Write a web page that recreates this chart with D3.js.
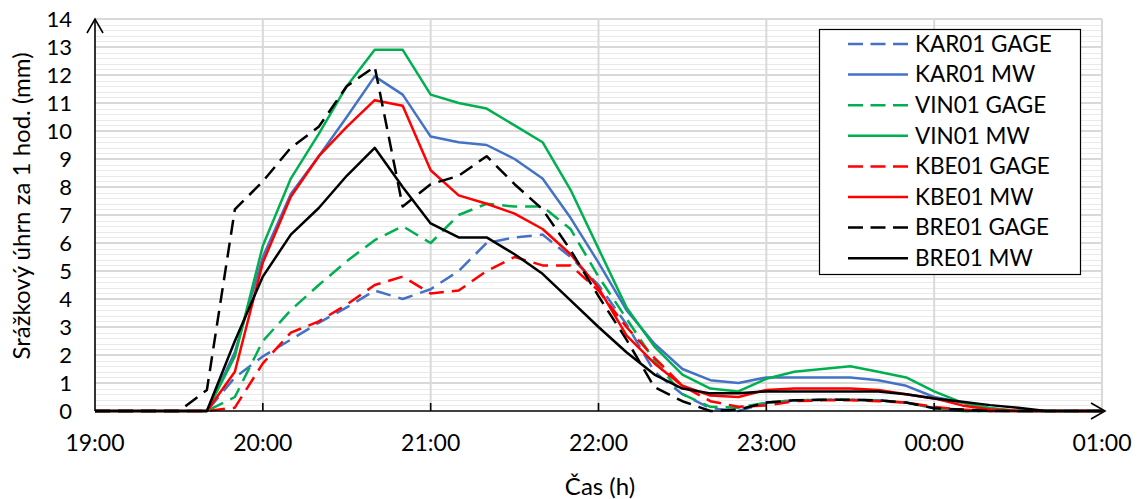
<!DOCTYPE html>
<html><head><meta charset="utf-8">
<script src="https://cdn.jsdelivr.net/npm/d3@7"></script>
<style>body{margin:0;background:#fff}svg{display:block}text{font-family:Lato,"Open Sans",sans-serif;fill:#000}</style>
</head><body><svg id="c" width="1144" height="499"></svg>
<script>
const times=["19:00","19:10","19:20","19:30","19:40","19:50","20:00","20:10","20:20","20:30","20:40","20:50","21:00","21:10","21:20","21:30","21:40","21:50","22:00","22:10","22:20","22:30","22:40","22:50","23:00","23:10","23:20","23:30","23:40","23:50","00:00","00:10","00:20","00:30","00:40","00:50","01:00"];
const xTickLabels=["19:00","20:00","21:00","22:00","23:00","00:00","01:00"];
const yTickLabels=[0,1,2,3,4,5,6,7,8,9,10,11,12,13,14];
const KAR01_GAGE=[0,0,0,0,0,1.2,1.95,2.55,3.15,3.7,4.3,4.0,4.35,5.0,6.0,6.2,6.3,5.5,4.5,3.1,1.4,0.6,0.1,0,0.3,0.38,0.4,0.4,0.38,0.3,0.1,0,0,0,0,0,0];
const KAR01_MW=[0,0,0,0,0,2.1,5.5,7.75,9.1,10.5,11.95,11.3,9.8,9.6,9.5,9.0,8.3,6.9,5.3,3.6,2.4,1.5,1.1,1.0,1.2,1.2,1.2,1.2,1.1,0.9,0.5,0.3,0.1,0,0,0,0];
const VIN01_GAGE=[0,0,0,0,0,0.5,2.5,3.6,4.5,5.35,6.1,6.6,6.0,7.0,7.4,7.3,7.3,6.5,4.8,3.3,1.8,0.6,0.15,0.12,0.3,0.38,0.4,0.4,0.38,0.3,0.1,0,0,0,0,0,0];
const VIN01_MW=[0,0,0,0,0,1.95,5.9,8.3,9.9,11.6,12.9,12.9,11.3,11.0,10.8,10.2,9.6,7.9,5.8,3.7,2.3,1.3,0.8,0.7,1.15,1.4,1.5,1.6,1.4,1.2,0.7,0.3,0.1,0,0,0,0];
const KBE01_GAGE=[0,0,0,0,0,0.12,1.7,2.8,3.2,3.8,4.5,4.8,4.2,4.3,5.0,5.5,5.2,5.2,4.3,3.0,1.9,0.9,0.35,0.15,0.2,0.35,0.38,0.38,0.35,0.3,0.15,0.05,0,0,0,0,0];
const KBE01_MW=[0,0,0,0,0,1.4,5.3,7.65,9.1,10.15,11.1,10.9,8.6,7.7,7.4,7.05,6.5,5.6,4.4,2.7,1.7,0.9,0.55,0.5,0.75,0.8,0.8,0.8,0.75,0.6,0.45,0.2,0.05,0,0,0,0];
const BRE01_GAGE=[0,0,0,0,0.75,7.2,8.2,9.4,10.15,11.6,12.3,7.3,8.1,8.4,9.1,8.1,7.2,5.75,4.1,2.55,0.85,0.35,0,0.05,0.3,0.38,0.4,0.4,0.38,0.3,0.1,0.05,0,0,0,0,0];
const BRE01_MW=[0,0,0,0,0,2.5,4.8,6.3,7.25,8.4,9.4,8.0,6.7,6.2,6.2,5.6,4.9,3.95,3.0,2.1,1.3,0.8,0.63,0.63,0.7,0.7,0.7,0.7,0.7,0.6,0.45,0.33,0.21,0.12,0,0,0];
const seriesNames=["KAR01 GAGE","KAR01 MW","VIN01 GAGE","VIN01 MW","KBE01 GAGE","KBE01 MW","BRE01 GAGE","BRE01 MW"];
const seriesValues=[KAR01_GAGE,KAR01_MW,VIN01_GAGE,VIN01_MW,KBE01_GAGE,KBE01_MW,BRE01_GAGE,BRE01_MW];
const seriesColors=["#4472C4","#4472C4","#00B050","#00B050","#FF0000","#FF0000","#000000","#000000"];
const seriesDashed=[true,false,true,false,true,false,true,false];

function toMin(t){let [h,m]=t.split(":").map(Number);if(h<19)h+=24;return (h-19)*60+m;}

const svg=d3.select("#c");
const L=95,R=1102,T=19,B=411;
const x=d3.scaleLinear().domain([0,360]).range([L,R]);
const y=d3.scaleLinear().domain([0,14]).range([B,T]);

// gridlines
const g=svg.append("g");
g.selectAll("line.minor").data(d3.range(0,14.001,0.2).filter(v=>Math.abs(v-Math.round(v))>0.01)).join("line")
 .attr("x1",L).attr("x2",R).attr("y1",d=>Math.round(y(d))+0.5).attr("y2",d=>Math.round(y(d))+0.5)
 .attr("stroke","#eaeaea").attr("stroke-width",1);
g.selectAll("line.major").data(yTickLabels.slice(1)).join("line")
 .attr("x1",L).attr("x2",R).attr("y1",d=>Math.round(y(d))).attr("y2",d=>Math.round(y(d)))
 .attr("stroke","#d9d9d9").attr("stroke-width",2);
svg.append("g").selectAll("line").data(xTickLabels.slice(1)).join("line")
 .attr("x1",d=>x(toMin(d))).attr("x2",d=>x(toMin(d))).attr("y1",T).attr("y2",B)
 .attr("stroke","#d9d9d9").attr("stroke-width",2);

// series
const line=d3.line().x((d,i)=>x(toMin(times[i]))).y(d=>y(d));
seriesValues.forEach((vals,k)=>{
  svg.append("path").datum(vals).attr("d",line).attr("fill","none")
   .attr("stroke",seriesColors[k]).attr("stroke-width",2.5)
   .attr("stroke-dasharray",seriesDashed[k]?"15,8":null).attr("stroke-linejoin","round");
});

// axes
const ax=svg.append("g").attr("stroke","#000").attr("fill","none").attr("stroke-width",1.6);
ax.append("line").attr("x1",L).attr("x2",L).attr("y1",B).attr("y2",T);
ax.append("path").attr("d",`M${L-8},${T+14}L${L},${T}L${L+8},${T+14}`);
ax.append("line").attr("x1",L).attr("x2",R+3).attr("y1",B).attr("y2",B);
ax.append("path").attr("d",`M${R-11},${B-8}L${R+3},${B}L${R-11},${B+8}`);
ax.selectAll("line.t").data(xTickLabels.slice(1,-1)).join("line")
 .attr("x1",d=>x(toMin(d))).attr("x2",d=>x(toMin(d))).attr("y1",B).attr("y2",B-8);

// tick labels
svg.append("g").selectAll("text").data(yTickLabels).join("text")
 .attr("x",72).attr("y",d=>y(d)).attr("dy","0.35em").attr("text-anchor","end")
 .attr("font-size",22).text(d=>d);
svg.append("g").selectAll("text").data(xTickLabels).join("text")
 .attr("x",d=>x(toMin(d))).attr("y",443).attr("dy","0.35em").attr("text-anchor","middle")
 .attr("font-size",23).text(d=>d);

svg.append("text").attr("x",600).attr("y",487).attr("dy","0.35em").attr("text-anchor","middle")
 .attr("font-size",24).text("Čas (h)");
svg.append("text").attr("transform","translate(22,206) rotate(-90)").attr("dy","0.35em")
 .attr("text-anchor","middle").attr("font-size",24).text("Srážkový úhrn za 1 hod. (mm)");

// legend
const lg=svg.append("g");
lg.append("rect").attr("x",819.5).attr("y",29.5).attr("width",261).attr("height",245)
 .attr("fill","#fff").attr("stroke","#000").attr("stroke-width",1.2);
seriesNames.forEach((n,k)=>{
  const cy=44+k*30.6;
  lg.append("line").attr("x1",848).attr("x2",908).attr("y1",cy).attr("y2",cy)
   .attr("stroke",seriesColors[k]).attr("stroke-width",2.5).attr("stroke-dasharray",seriesDashed[k]?"15,7.5":null);
  lg.append("text").attr("x",915).attr("y",cy).attr("dy","0.35em").attr("font-size",22.5).text(n);
});
</script></body></html>
